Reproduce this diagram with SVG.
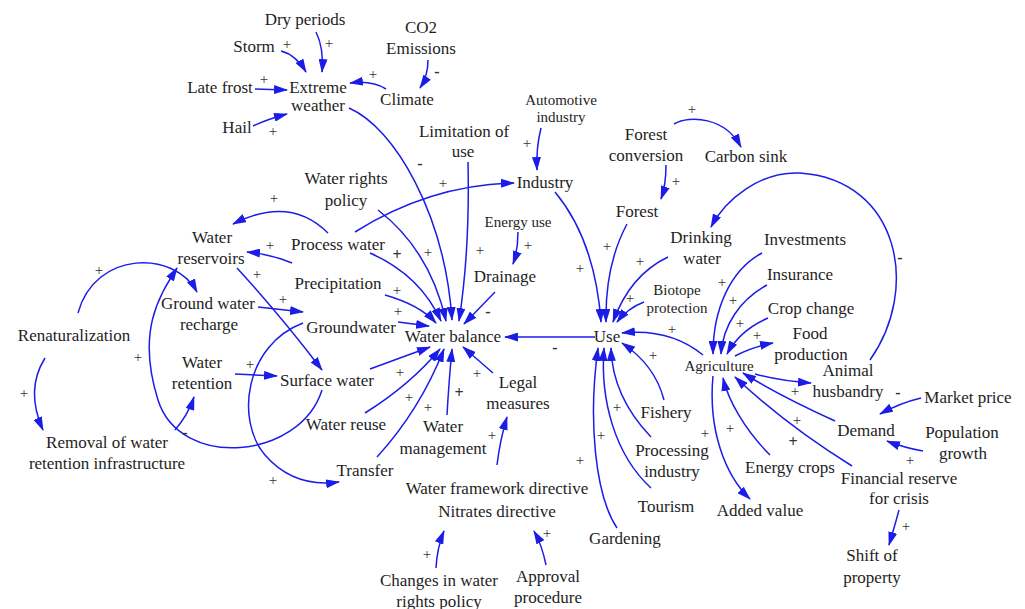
<svg xmlns="http://www.w3.org/2000/svg" width="1025" height="609" viewBox="0 0 1025 609">
  <style>
    text { font-family: "Liberation Serif", "Times New Roman", serif; fill: #1e1e1e; text-anchor: middle; }
    .n { font-size: 17px; }
    .s { font-size: 15px; }
    .p { font-size: 15px; fill: #333; }
    .m { font-size: 16px; font-weight: bold; fill: #333; }
    #connectors path { fill: none; stroke: #1c1ce8; stroke-width: 1.5; marker-end: url(#ah); }
  </style>
  <defs>
    <marker id="ah" markerWidth="14" markerHeight="9" refX="13" refY="4.5" orient="auto" markerUnits="userSpaceOnUse">
      <path d="M0,0 L14,4.5 L0,9 z" fill="#1c1ce8"/>
    </marker>
  </defs>
  <rect width="1025" height="609" fill="#ffffff"/>

  <!-- links between variables -->
  <g id="connectors">
    <!-- weather cluster -->
    <path d="M281,51 Q296,55 306,72"/>
    <path d="M316,32 Q324,48 322,72"/>
    <path d="M255,89 L287,90"/>
    <path d="M253,126 Q268,119 287,114"/>
    <path d="M386,89 Q372,80 350,83"/>
    <path d="M428,60 Q428,76 420,88"/>
    <!-- into water balance from above -->
    <path d="M349,108 C395,128 445,215 452,320"/>
    <path d="M468,162 Q470,250 459,321"/>
    <path d="M378,210 Q430,250 446,321"/>
    <path d="M370,253 Q420,275 441,321"/>
    <path d="M385,295 Q420,305 436,323"/>
    <path d="M398,322 L429,326"/>
    <path d="M495,292 L464,324"/>
    <path d="M355,232 Q430,185 514,183"/>
    <!-- left loops -->
    <path d="M328,233 Q290,195 233,224"/>
    <path d="M292,263 Q270,254 247,252"/>
    <path d="M237,268 Q280,315 322,370"/>
    <path d="M258,307 L303,312"/>
    <path d="M78,313 C95,250 175,250 197,292"/>
    <path d="M235,374 L277,376"/>
    <path d="M45,358 Q25,390 43,430"/>
    <path d="M175,430 Q188,415 194,397"/>
    <path d="M322,390 C300,460 180,470 158,400 S160,295 177,268"/>
    <path d="M303,323 C245,345 235,420 265,455 C285,478 310,486 339,482"/>
    <!-- into water balance from below -->
    <path d="M370,369 Q400,358 430,347"/>
    <path d="M365,413 Q410,385 440,349"/>
    <path d="M377,457 Q420,410 444,349"/>
    <path d="M447,415 Q449,380 452,349"/>
    <path d="M493,373 L463,347"/>
    <path d="M595,337 L505,337"/>
    <!-- directives -->
    <path d="M497,465 Q500,440 507,417"/>
    <path d="M436,568 Q437,548 444,531"/>
    <path d="M546,565 Q542,545 534,531"/>
    <!-- industry, forest, use -->
    <path d="M541,128 Q536,148 537,170"/>
    <path d="M518,232 Q518,250 513,264"/>
    <path d="M555,192 Q595,240 601,322"/>
    <path d="M627,224 Q605,265 606,322"/>
    <path d="M666,165 Q666,185 661,199"/>
    <path d="M674,124 C690,115 725,117 741,147"/>
    <path d="M668,257 Q630,275 613,322"/>
    <path d="M644,302 Q628,308 617,322"/>
    <path d="M703,355 Q670,328 622,333"/>
    <path d="M664,400 Q655,365 622,343"/>
    <path d="M651,437 C630,415 612,385 611,348"/>
    <path d="M651,488 C615,455 600,400 604,348"/>
    <path d="M617,528 C595,495 588,420 598,348"/>
    <!-- agriculture -->
    <path d="M762,253 C730,270 713,310 713,354"/>
    <path d="M767,285 C740,300 723,325 721,354"/>
    <path d="M768,318 Q740,330 727,354"/>
    <path d="M735,356 Q752,347 773,343"/>
    <path d="M755,374 Q780,381 811,383"/>
    <path d="M870,360 C920,290 900,180 800,173 C760,171 725,200 711,227"/>
    <path d="M921,398 Q900,403 880,414"/>
    <path d="M923,451 Q905,448 887,441"/>
    <path d="M835,421 C800,405 770,390 743,373"/>
    <path d="M852,466 C810,440 770,410 735,377"/>
    <path d="M770,455 C745,430 728,400 723,378"/>
    <path d="M713,376 C708,430 725,475 750,499"/>
    <path d="M899,510 Q895,525 889,545"/>
  </g>

  <!-- link polarities -->
  <g id="polarities">
    <text class="p" x="287" y="49">+</text>
    <text class="p" x="329" y="48">+</text>
    <text class="p" x="264" y="84">+</text>
    <text class="p" x="273" y="136">+</text>
    <text class="p" x="373" y="79">+</text>
    <text class="m" x="437" y="77">-</text>
    <text class="m" x="420" y="169">-</text>
    <text class="p" x="527" y="148">+</text>
    <text class="p" x="443" y="188">+</text>
    <text class="p" x="676" y="186">+</text>
    <text class="p" x="692" y="114">+</text>
    <text class="p" x="274" y="203">+</text>
    <text class="p" x="270" y="250">+</text>
    <text class="p" x="257" y="279">+</text>
    <text class="p" x="283" y="304">+</text>
    <text class="p" x="99" y="275">+</text>
    <text class="p" x="24" y="398">+</text>
    <text class="m" x="185" y="438">-</text>
    <text class="p" x="138" y="362">+</text>
    <text class="p" x="250" y="369">+</text>
    <text class="p" x="273" y="485">+</text>
    <text class="p" x="528" y="250">+</text>
    <text class="m" x="397" y="260">+</text>
    <text class="p" x="428" y="257">+</text>
    <text class="p" x="480" y="255">+</text>
    <text class="p" x="397" y="295">+</text>
    <text class="p" x="398" y="316">+</text>
    <text class="m" x="488" y="317">-</text>
    <text class="m" x="555" y="353">-</text>
    <text class="p" x="400" y="377">+</text>
    <text class="p" x="409" y="402">+</text>
    <text class="p" x="428" y="412">+</text>
    <text class="m" x="459" y="398">+</text>
    <text class="p" x="477" y="378">+</text>
    <text class="p" x="492" y="440">+</text>
    <text class="p" x="427" y="559">+</text>
    <text class="p" x="547" y="538">+</text>
    <text class="p" x="580" y="273">+</text>
    <text class="p" x="607" y="251">+</text>
    <text class="p" x="640" y="266">+</text>
    <text class="p" x="630" y="303">+</text>
    <text class="p" x="672" y="334">+</text>
    <text class="p" x="653" y="360">+</text>
    <text class="p" x="617" y="412">+</text>
    <text class="p" x="601" y="440">+</text>
    <text class="p" x="580" y="465">+</text>
    <text class="p" x="722" y="287">+</text>
    <text class="p" x="733" y="305">+</text>
    <text class="p" x="740" y="328">+</text>
    <text class="p" x="757" y="340">+</text>
    <text class="p" x="795" y="396">+</text>
    <text class="m" x="900" y="263">-</text>
    <text class="m" x="898" y="398">-</text>
    <text class="p" x="910" y="465">+</text>
    <text class="p" x="797" y="425">+</text>
    <text class="m" x="793" y="447">+</text>
    <text class="p" x="730" y="433">+</text>
    <text class="p" x="705" y="438">+</text>
    <text class="p" x="906" y="531">+</text>
  </g>

  <!-- variables -->
  <g id="dry-periods"><text class="n" x="305" y="25">Dry periods</text></g>
  <g id="storm"><text class="n" x="254" y="52">Storm</text></g>
  <g id="co2-emissions"><text class="n" x="421" y="33">CO2</text><text class="n" x="421" y="54">Emissions</text></g>
  <g id="late-frost"><text class="n" x="220" y="93">Late frost</text></g>
  <g id="extreme-weather"><text class="n" x="318" y="93">Extreme</text><text class="n" x="318" y="111">weather</text></g>
  <g id="climate"><text class="n" x="407" y="105">Climate</text></g>
  <g id="hail"><text class="n" x="237" y="133">Hail</text></g>
  <g id="automotive-industry"><text class="s" x="561" y="105">Automotive</text><text class="s" x="561" y="122">industry</text></g>
  <g id="limitation-of-use"><text class="n" x="464" y="137">Limitation of</text><text class="n" x="463" y="157">use</text></g>
  <g id="forest-conversion"><text class="n" x="646" y="140">Forest</text><text class="n" x="646" y="161">conversion</text></g>
  <g id="carbon-sink"><text class="n" x="746" y="162">Carbon sink</text></g>
  <g id="water-rights-policy"><text class="n" x="346" y="184">Water rights</text><text class="n" x="346" y="206">policy</text></g>
  <g id="industry"><text class="n" x="545" y="188">Industry</text></g>
  <g id="forest"><text class="n" x="637" y="217">Forest</text></g>
  <g id="energy-use"><text class="s" x="518" y="227">Energy use</text></g>
  <g id="drainage"><text class="n" x="505" y="282">Drainage</text></g>
  <g id="water-reservoirs"><text class="n" x="212" y="243">Water</text><text class="n" x="211" y="264">reservoirs</text></g>
  <g id="process-water"><text class="n" x="338" y="250">Process water</text></g>
  <g id="drinking-water"><text class="n" x="701" y="243">Drinking</text><text class="n" x="702" y="264">water</text></g>
  <g id="investments"><text class="n" x="805" y="245">Investments</text></g>
  <g id="insurance"><text class="n" x="800" y="280">Insurance</text></g>
  <g id="precipitation"><text class="n" x="338" y="289">Precipitation</text></g>
  <g id="ground-water-recharge"><text class="n" x="208" y="309">Ground water</text><text class="n" x="209" y="330">recharge</text></g>
  <g id="biotope-protection"><text class="s" x="677" y="295">Biotope</text><text class="s" x="677" y="313">protection</text></g>
  <g id="crop-change"><text class="n" x="811" y="314">Crop change</text></g>
  <g id="renaturalization"><text class="n" x="74" y="341">Renaturalization</text></g>
  <g id="groundwater"><text class="n" x="351" y="333">Groundwater</text></g>
  <g id="water-balance"><text class="n" x="453" y="342">Water balance</text></g>
  <g id="use"><text class="n" x="607" y="342">Use</text></g>
  <g id="food-production"><text class="n" x="810" y="339">Food</text><text class="n" x="811" y="360">production</text></g>
  <g id="agriculture"><text class="s" x="719" y="371">Agriculture</text></g>
  <g id="water-retention"><text class="n" x="202" y="368">Water</text><text class="n" x="202" y="389">retention</text></g>
  <g id="animal-husbandry"><text class="n" x="848" y="376">Animal</text><text class="n" x="848" y="397">husbandry</text></g>
  <g id="surface-water"><text class="n" x="327" y="386">Surface water</text></g>
  <g id="legal-measures"><text class="n" x="518" y="388">Legal</text><text class="n" x="518" y="409">measures</text></g>
  <g id="market-price"><text class="n" x="968" y="403">Market price</text></g>
  <g id="fishery"><text class="n" x="666" y="418">Fishery</text></g>
  <g id="water-reuse"><text class="n" x="346" y="430">Water reuse</text></g>
  <g id="water-management"><text class="n" x="443" y="432">Water</text><text class="n" x="443" y="454">management</text></g>
  <g id="demand"><text class="n" x="866" y="436">Demand</text></g>
  <g id="population-growth"><text class="n" x="962" y="438">Population</text><text class="n" x="963" y="459">growth</text></g>
  <g id="removal-of-water-retention"><text class="n" x="107" y="448">Removal of water</text><text class="n" x="107" y="469">retention infrastructure</text></g>
  <g id="processing-industry"><text class="n" x="672" y="456">Processing</text><text class="n" x="672" y="477">industry</text></g>
  <g id="energy-crops"><text class="n" x="790" y="473">Energy crops</text></g>
  <g id="financial-reserve"><text class="n" x="899" y="484">Financial reserve</text><text class="n" x="899" y="504">for crisis</text></g>
  <g id="transfer"><text class="n" x="365" y="476">Transfer</text></g>
  <g id="directives"><text class="n" x="497" y="494">Water framework directive</text><text class="n" x="497" y="517">Nitrates directive</text></g>
  <g id="tourism"><text class="n" x="666" y="512">Tourism</text></g>
  <g id="added-value"><text class="n" x="760" y="516">Added value</text></g>
  <g id="gardening"><text class="n" x="625" y="544">Gardening</text></g>
  <g id="shift-of-property"><text class="n" x="872" y="561">Shift of</text><text class="n" x="872" y="583">property</text></g>
  <g id="changes-in-water-rights-policy"><text class="n" x="439" y="586">Changes in water</text><text class="n" x="439" y="607">rights policy</text></g>
  <g id="approval-procedure"><text class="n" x="548" y="582">Approval</text><text class="n" x="548" y="603">procedure</text></g>
</svg>
